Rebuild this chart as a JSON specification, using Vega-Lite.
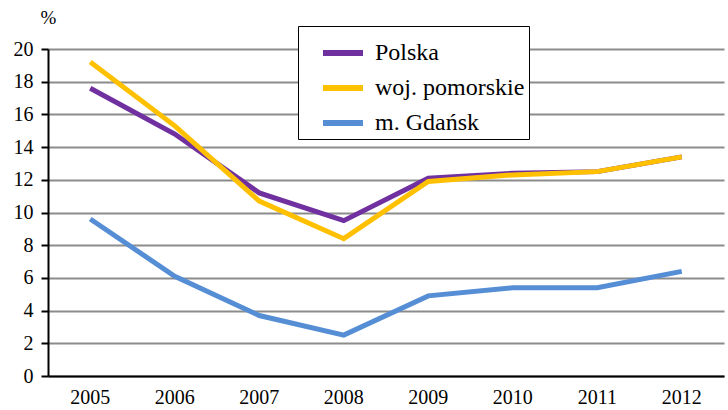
{
  "$schema": "https://vega.github.io/schema/vega-lite/v6.json",
  "autosize": {"type": "none"},
  "width": 676,
  "height": 327,
  "padding": {"left": 48, "top": 49, "right": 4, "bottom": 34},
  "background": "white",
  "config": {
    "font": "Liberation Serif",
    "view": {"stroke": null}
  },
  "data": {
    "values": [
      {"rok": "2005", "obszar": "Polska", "v": 17.6},
      {"rok": "2006", "obszar": "Polska", "v": 14.8},
      {"rok": "2007", "obszar": "Polska", "v": 11.2},
      {"rok": "2008", "obszar": "Polska", "v": 9.5},
      {"rok": "2009", "obszar": "Polska", "v": 12.1},
      {"rok": "2010", "obszar": "Polska", "v": 12.4},
      {"rok": "2011", "obszar": "Polska", "v": 12.5},
      {"rok": "2012", "obszar": "Polska", "v": 13.4},
      {"rok": "2005", "obszar": "woj. pomorskie", "v": 19.2},
      {"rok": "2006", "obszar": "woj. pomorskie", "v": 15.3},
      {"rok": "2007", "obszar": "woj. pomorskie", "v": 10.7},
      {"rok": "2008", "obszar": "woj. pomorskie", "v": 8.4},
      {"rok": "2009", "obszar": "woj. pomorskie", "v": 11.9},
      {"rok": "2010", "obszar": "woj. pomorskie", "v": 12.3},
      {"rok": "2011", "obszar": "woj. pomorskie", "v": 12.5},
      {"rok": "2012", "obszar": "woj. pomorskie", "v": 13.4},
      {"rok": "2005", "obszar": "m. Gdańsk", "v": 9.6},
      {"rok": "2006", "obszar": "m. Gdańsk", "v": 6.1},
      {"rok": "2007", "obszar": "m. Gdańsk", "v": 3.7},
      {"rok": "2008", "obszar": "m. Gdańsk", "v": 2.5},
      {"rok": "2009", "obszar": "m. Gdańsk", "v": 4.9},
      {"rok": "2010", "obszar": "m. Gdańsk", "v": 5.4},
      {"rok": "2011", "obszar": "m. Gdańsk", "v": 5.4},
      {"rok": "2012", "obszar": "m. Gdańsk", "v": 6.4}
    ]
  },
  "mark": {"type": "line", "strokeWidth": 5},
  "encoding": {
    "x": {
      "field": "rok",
      "type": "ordinal",
      "scale": {"type": "band", "paddingInner": 0, "paddingOuter": 0},
      "axis": {
        "title": null,
        "labelAngle": 0,
        "labelFont": "Liberation Serif",
        "labelFontSize": 20,
        "labelColor": "black",
        "labelPadding": 11,
        "ticks": false,
        "domainColor": "black",
        "domainWidth": 2,
        "grid": false
      }
    },
    "y": {
      "field": "v",
      "type": "quantitative",
      "scale": {"domain": [0, 20], "nice": false},
      "axis": {
        "title": "%",
        "titleAngle": 0,
        "titleFont": "Liberation Serif",
        "titleFontSize": 19,
        "titleFontWeight": "normal",
        "titleColor": "black",
        "titleX": 0,
        "titleY": -22,
        "titleAlign": "center",
        "values": [0, 2, 4, 6, 8, 10, 12, 14, 16, 18, 20],
        "labelFont": "Liberation Serif",
        "labelFontSize": 20,
        "labelColor": "black",
        "labelPadding": 8,
        "tickColor": "black",
        "tickWidth": 2,
        "tickSize": 7,
        "domainColor": "black",
        "domainWidth": 2,
        "grid": true,
        "gridColor": "#8c8c8c",
        "gridWidth": 2
      }
    },
    "color": {
      "field": "obszar",
      "type": "nominal",
      "scale": {
        "domain": ["Polska", "woj. pomorskie", "m. Gdańsk"],
        "range": ["#7030A0", "#FFC000", "#558ED5"]
      },
      "legend": {
        "title": null,
        "orient": "none",
        "legendX": 250,
        "legendY": -23,
        "direction": "vertical",
        "symbolType": "stroke",
        "symbolSize": 1600,
        "symbolStrokeWidth": 6,
        "symbolOffset": 18,
        "labelFont": "Liberation Serif",
        "labelFontSize": 24,
        "labelColor": "black",
        "labelOffset": 9,
        "rowPadding": -14,
        "padding": 4,
        "strokeColor": "black",
        "fillColor": "white",
        "cornerRadius": 0,
        "labelLimit": 300
      }
    }
  }
}
